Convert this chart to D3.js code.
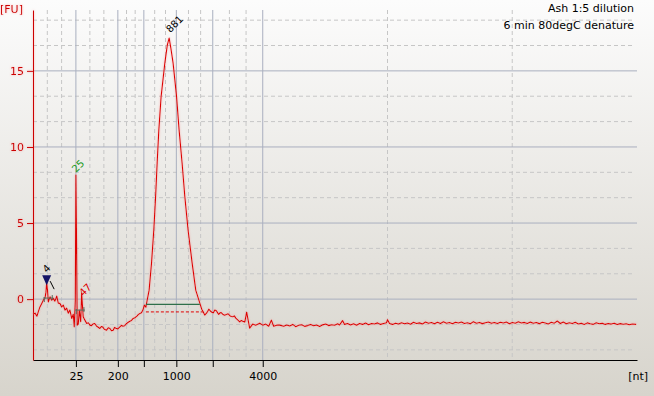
<!DOCTYPE html>
<html>
<head>
<meta charset="utf-8">
<script src="https://cdn.jsdelivr.net/npm/d3@7"></script>
<style>
    body { margin: 0; }
    #chart { width: 654px; height: 396px; }
    svg { display: block; font-family: "DejaVu Sans", sans-serif; }
</style>
</head>
<body>
<div id="chart"></div>
<script>

// sample notes (top right)
const sampleNotes = ["Ash 1:5 dilution", "6 min 80degC denature"];

// ladder sizes [nt] and their migration times [s]
const ladderSizes = [25, 200, 500, 1000, 2000, 4000];
const ladderTimes = [21.58, 25.08, 27.25, 29.96, 33.0, 37.17];
const labelledSizes = [25, 200, 1000, 4000];
const timeRange = [18, 68.4];

const yTicks = [0, 5, 10, 15];
const fuRange = [-4, 19];

// electropherogram trace: [time s, FU]
const trace = [
    [18.00,-0.99],[18.17,-0.92],[18.33,-1.12],[18.44,-0.84],[18.58,-0.51],[18.73,-0.28],[18.86,-0.07],
    [19.00,0.07],[19.08,0.46],[19.14,1.05],[19.21,0.59],[19.28,-0.18],[19.42,0.15],[19.56,-0.07],
    [19.69,0.05],[19.83,-0.13],[19.98,0.20],[20.11,-0.26],[20.25,-0.28],[20.39,-0.51],[20.53,-0.39],
    [20.67,-0.72],[20.81,-0.59],[20.94,-0.92],[21.08,-0.72],[21.23,-1.27],[21.36,-0.99],[21.44,-1.82],
    [21.53,-0.07],[21.58,8.16],[21.64,3.22],[21.69,-1.71],[21.78,-1.64],[21.86,-0.72],[21.98,-1.49],
    [22.06,0.38],[22.19,-1.16],[22.33,-1.38],[22.48,-1.60],[22.62,-1.55],[22.75,-1.71],[22.88,-1.74],
    [23.00,-1.64],[23.15,-1.60],[23.31,-1.78],[23.45,-1.85],[23.58,-1.93],[23.70,-1.80],[23.83,-1.84],
    [23.95,-1.98],[24.14,-2.04],[24.28,-1.88],[24.42,-1.93],[24.55,-2.08],[24.69,-2.04],[24.80,-1.86],
    [24.92,-1.91],[25.08,-1.96],[25.25,-1.82],[25.38,-1.72],[25.50,-1.78],[25.65,-1.75],[25.81,-1.60],
    [25.95,-1.52],[26.08,-1.45],[26.22,-1.40],[26.36,-1.27],[26.50,-1.22],[26.67,-1.12],[26.80,-1.00],
    [26.92,-0.94],[27.05,-0.90],[27.17,-0.72],[27.29,-0.39],[27.42,-0.53],
    [27.48,-0.26],[27.69,0.59],[27.89,2.37],[28.08,4.54],[28.23,6.73],[28.36,8.95],[28.50,11.12],
    [28.69,13.31],[29.00,15.51],[29.21,16.71],[29.36,17.15],[29.50,16.51],[29.69,15.51],[29.98,13.31],
    [30.19,11.12],[30.44,8.95],[30.67,6.73],[30.94,4.54],[31.28,2.37],[31.58,0.59],[31.92,-0.26],
    [32.08,-0.66],[32.21,-0.84],[32.33,-1.05],[32.40,-0.98],[32.48,-0.92],[32.58,-0.80],[32.67,-0.66],
    [32.80,-0.78],[32.92,-0.86],[33.05,-0.90],[33.17,-0.72],[33.30,-0.76],[33.42,-0.92],[33.50,-1.00],
    [33.58,-0.92],[33.70,-0.88],[33.83,-0.99],[33.98,-1.06],[34.14,-1.01],[34.28,-0.96],[34.42,-1.09],
    [34.55,-1.14],[34.67,-1.16],[34.80,-1.10],[34.92,-1.25],[35.08,-1.36],[35.25,-1.49],[35.38,-1.40],
    [35.50,-1.45],[35.67,-1.51],[35.83,-0.86],[35.92,-1.25],[36.08,-1.91],[36.33,-1.64],
    [36.58,-1.71],[36.92,-1.58],[37.17,-1.71],[37.42,-1.64],[37.67,-1.78],[37.89,-1.38],[38.08,-1.78],
    [38.33,-1.71],[38.58,-1.71],
    [38.92,-1.78],[39.17,-1.70],[39.42,-1.76],[39.67,-1.66],[39.92,-1.81],[40.17,-1.72],[40.42,-1.68],
    [40.67,-1.79],[40.92,-1.74],[41.17,-1.66],[41.42,-1.75],[41.67,-1.70],[41.92,-1.80],[42.17,-1.69],
    [42.42,-1.64],[42.67,-1.74],[42.92,-1.68],[43.17,-1.72],[43.42,-1.62],[43.58,-1.70],[43.83,-1.41],
    [44.00,-1.66],[44.25,-1.60],[44.50,-1.70],[44.75,-1.62],[45.00,-1.72],[45.25,-1.60],[45.50,-1.66],
    [45.75,-1.57],[46.00,-1.68],[46.25,-1.60],[46.50,-1.63],[46.75,-1.56],[47.00,-1.66],[47.25,-1.60],
    [47.50,-1.55],[47.58,-1.35],[47.75,-1.60],[48.00,-1.66],[48.25,-1.58],[48.50,-1.64],[48.75,-1.55],
    [49.00,-1.62],[49.25,-1.57],[49.50,-1.65],[49.75,-1.52],[50.00,-1.60],[50.25,-1.56],[50.50,-1.63],
    [50.75,-1.50],[51.00,-1.59],[51.25,-1.54],[51.50,-1.62],[51.75,-1.52],[52.00,-1.60],[52.25,-1.49],
    [52.50,-1.58],[52.75,-1.54],[53.00,-1.62],[53.25,-1.52],[53.50,-1.57],[53.75,-1.50],[54.00,-1.60],
    [54.25,-1.55],[54.50,-1.62],[54.75,-1.48],[55.00,-1.58],[55.25,-1.53],[55.50,-1.61],[55.75,-1.55],
    [56.00,-1.50],[56.25,-1.59],[56.50,-1.54],[56.75,-1.60],[57.00,-1.52],[57.25,-1.57],[57.50,-1.50],
    [57.75,-1.62],[58.00,-1.54],[58.25,-1.58],[58.50,-1.49],[58.75,-1.57],[59.00,-1.53],[59.25,-1.60],
    [59.50,-1.51],[59.75,-1.58],[60.00,-1.54],[60.25,-1.61],[60.50,-1.52],[60.75,-1.57],[61.00,-1.63],
    [61.25,-1.52],[61.50,-1.58],[61.75,-1.44],[62.00,-1.60],[62.25,-1.50],[62.50,-1.62],[62.75,-1.55],
    [63.00,-1.60],[63.25,-1.52],[63.50,-1.63],[63.75,-1.58],[64.00,-1.66],[64.25,-1.56],[64.50,-1.62],
    [64.75,-1.66],[65.00,-1.55],[65.25,-1.62],[65.50,-1.58],[65.75,-1.66],[66.00,-1.60],[66.25,-1.64],
    [66.50,-1.58],[66.75,-1.67],[67.00,-1.61],[67.25,-1.65],[67.50,-1.62],[67.75,-1.68],[68.00,-1.63],
    [68.33,-1.66]
];

// called peaks
const peakLabels = ["4", "25", "47", "881"];
const peakTimes = [19.14, 21.58, 22.06, 29.36];
const peakFU = [1.05, 8.16, 0.38, 17.15];

// small peak baselines (peaks "4" and "47")
const smallBaseStart = [18.86, 21.53];
const smallBaseEnd = [19.69, 22.33];
const smallBaseFU = [0.07, -0.72];

// integrated region of the main peak
const regionStart = 27.42;
const regionEnd = 31.92;
const regionFU = -0.35;
const regionBaseEnd = 32.21;
const regionBaseFU = -0.84;


class electropherogram {

    constructor(parentElement) {
        this.parentElement = parentElement;
        this.initVis();
    }

    initVis() {
        let vis = this;

        vis.W = 654;
        vis.H = 396;
        vis.margin = {top: 10, right: 17, bottom: 36, left: 33};
        vis.width = vis.W - vis.margin.left - vis.margin.right;
        vis.height = vis.H - vis.margin.top - vis.margin.bottom;

        vis.svg0 = d3.select("#" + vis.parentElement).append("svg")
            .attr("width", vis.W)
            .attr("height", vis.H);

        let defs = vis.svg0.append("defs");
        let grad = defs.append("linearGradient")
            .attr("id", "bg").attr("x1", 0).attr("x2", 0).attr("y1", 0).attr("y2", 1);
        grad.append("stop").attr("offset", "0%").attr("stop-color", "#fcfcfc");
        grad.append("stop").attr("offset", "100%").attr("stop-color", "#d7d4cc");

        let glow = defs.append("filter").attr("id", "glow")
            .attr("x", "-20%").attr("y", "-20%").attr("width", "140%").attr("height", "140%");
        glow.append("feGaussianBlur").attr("in", "SourceAlpha").attr("stdDeviation", 1.1).attr("result", "blur");
        glow.append("feFlood").attr("flood-color", "#ff7070").attr("flood-opacity", 0.55).attr("result", "col");
        glow.append("feComposite").attr("in", "col").attr("in2", "blur").attr("operator", "in").attr("result", "halo");
        let merge = glow.append("feMerge");
        merge.append("feMergeNode").attr("in", "halo");
        merge.append("feMergeNode").attr("in", "SourceGraphic");

        vis.svg0.append("rect")
            .attr("width", vis.W).attr("height", vis.H)
            .attr("fill", "url(#bg)");

        vis.svg = vis.svg0.append("g")
            .attr("transform", `translate(${vis.margin.left}, ${vis.margin.top})`);

        // scales
        vis.x = d3.scaleLinear().domain(timeRange).range([0, vis.width]);
        vis.y = d3.scaleLinear().domain(fuRange).range([vis.height, 0]);

        // grid: thirds between major lines
        let bounds = [timeRange[0]].concat(ladderTimes, [timeRange[1]]);
        let minorX = [];
        for (let i = 0; i < bounds.length - 1; i++) {
            let step = (bounds[i + 1] - bounds[i]) / 3;
            minorX.push(bounds[i] + step, bounds[i] + 2 * step);
        }
        let yStep = 5 / 3;
        let minorY = d3.range(-2, 12).map(k => k * yStep).filter(v => v > fuRange[0] && v < fuRange[1] && Math.abs(v % 5) > 0.01);

        let grid = vis.svg.append("g").attr("class", "grid");
        grid.selectAll(".minor-x").data(minorX).enter().append("line")
            .attr("x1", d => vis.x(d)).attr("x2", d => vis.x(d))
            .attr("y1", 0).attr("y2", vis.height)
            .attr("stroke", "#c6c6c6").attr("stroke-dasharray", "4,3");
        grid.selectAll(".minor-y").data(minorY).enter().append("line")
            .attr("x1", 0).attr("x2", vis.width - 3)
            .attr("y1", d => vis.y(d)).attr("y2", d => vis.y(d))
            .attr("stroke", "#c6c6c6").attr("stroke-dasharray", "4,3");
        grid.selectAll(".major-x").data(ladderTimes).enter().append("line")
            .attr("x1", d => vis.x(d)).attr("x2", d => vis.x(d))
            .attr("y1", 0).attr("y2", vis.height)
            .attr("stroke", "#a9afbf");
        grid.selectAll(".major-y").data(yTicks).enter().append("line")
            .attr("x1", 0).attr("x2", vis.width)
            .attr("y1", d => vis.y(d)).attr("y2", d => vis.y(d))
            .attr("stroke", "#a9afbf");

        // axes
        vis.xAxis = d3.axisBottom(vis.x)
            .tickValues(ladderTimes)
            .tickSize(7)
            .tickSizeOuter(0)
            .tickPadding(5)
            .tickFormat((d, i) => labelledSizes.includes(ladderSizes[i]) ? ladderSizes[i] : "");

        vis.yAxis = d3.axisLeft(vis.y)
            .tickValues(yTicks)
            .tickSize(6)
            .tickSizeOuter(0)
            .tickPadding(3);

        let gx = vis.svg.append("g")
            .attr("class", "x-axis axis")
            .attr("transform", "translate(0," + vis.height + ")")
            .call(vis.xAxis);
        gx.attr("font-size", 11).attr("font-family", "DejaVu Sans, sans-serif");
        gx.selectAll("line, path").attr("stroke", "#000");
        gx.selectAll("text").attr("fill", "#000");

        let gy = vis.svg.append("g")
            .attr("class", "y-axis axis")
            .attr("filter", "url(#glow)")
            .call(vis.yAxis);
        gy.attr("font-size", 11).attr("font-family", "DejaVu Sans, sans-serif");
        gy.selectAll("line, path").attr("stroke", "#cc0000");
        gy.selectAll("text").attr("fill", "#cc0000");

        // unit labels
        vis.svg0.append("text")
            .attr("x", 0).attr("y", 13)
            .attr("font-size", 11).attr("fill", "#cc0000")
            .attr("filter", "url(#glow)")
            .text("[FU]");
        vis.svg0.append("text")
            .attr("x", 648).attr("y", 380)
            .attr("text-anchor", "end")
            .attr("font-size", 11).attr("fill", "#000")
            .text("[nt]");

        // notes
        vis.svg0.selectAll(".note").data(sampleNotes).enter().append("text")
            .attr("class", "note")
            .attr("x", 634).attr("y", (d, i) => 12 + i * 16.5)
            .attr("text-anchor", "end")
            .attr("font-size", 11).attr("fill", "#000")
            .text(d => d);

        this.updateVis();
    }

    updateVis() {
        let vis = this;

        // main peak integration
        vis.svg.append("line")
            .attr("x1", vis.x(regionStart)).attr("x2", vis.x(regionBaseEnd))
            .attr("y1", vis.y(regionBaseFU)).attr("y2", vis.y(regionBaseFU))
            .attr("stroke", "#e00000").attr("stroke-dasharray", "3,2");

        // trace
        let line = d3.line().x(d => vis.x(d[0])).y(d => vis.y(d[1]));
        vis.svg.append("path")
            .datum(trace)
            .attr("d", line)
            .attr("fill", "none")
            .attr("stroke", "#dd0000")
            .attr("stroke-width", 1.1)
            .attr("stroke-linejoin", "round")
            .attr("filter", "url(#glow)");

        vis.svg.append("line")
            .attr("x1", vis.x(regionStart)).attr("x2", vis.x(regionEnd))
            .attr("y1", vis.y(regionFU)).attr("y2", vis.y(regionFU))
            .attr("stroke", "#2f6f4a").attr("stroke-width", 1.2);

        // small peak baselines
        smallBaseStart.forEach((s, i) => {
            let g = vis.svg.append("g").attr("stroke", "#5a6a5a").attr("stroke-width", 1);
            let yy = vis.y(smallBaseFU[i]);
            g.append("line").attr("x1", vis.x(s)).attr("x2", vis.x(smallBaseEnd[i])).attr("y1", yy).attr("y2", yy);
            g.append("line").attr("x1", vis.x(s) + 1).attr("x2", vis.x(s) + 1).attr("y1", yy - 1).attr("y2", yy + 4);
            g.append("line").attr("x1", vis.x(smallBaseEnd[i]) - 1).attr("x2", vis.x(smallBaseEnd[i]) - 1).attr("y1", yy - 3).attr("y2", yy + 2);
        });

        // marker on first peak
        let px = vis.x(peakTimes[0]), py = vis.y(peakFU[0]);
        vis.svg.append("path")
            .attr("d", `M${px - 4.5},${py - 8} L${px + 4.5},${py - 8} L${px},${py + 2} Z`)
            .attr("fill", "#141466");
        vis.svg.append("line")
            .attr("x1", px + 3.5).attr("y1", py - 2)
            .attr("x2", px + 7.5).attr("y2", py + 6)
            .attr("stroke", "#000");

        // peak labels
        let labelColors = ["#000", "#1a9a1a", "#dd0000", "#000"];
        let labelDx = [0, 0, 1.5, 1];
        let labelDy = [-10, -2, 3.5, -5];
        vis.svg.selectAll(".peak-label").data(peakLabels).enter().append("text")
            .attr("class", "peak-label")
            .attr("transform", (d, i) => `translate(${vis.x(peakTimes[i]) + labelDx[i]}, ${vis.y(peakFU[i]) + labelDy[i]}) rotate(-45)`)
            .attr("font-size", 10)
            .attr("fill", (d, i) => labelColors[i])
            .text(d => d);
    }
}

new electropherogram("chart");

</script>
</body>
</html>
